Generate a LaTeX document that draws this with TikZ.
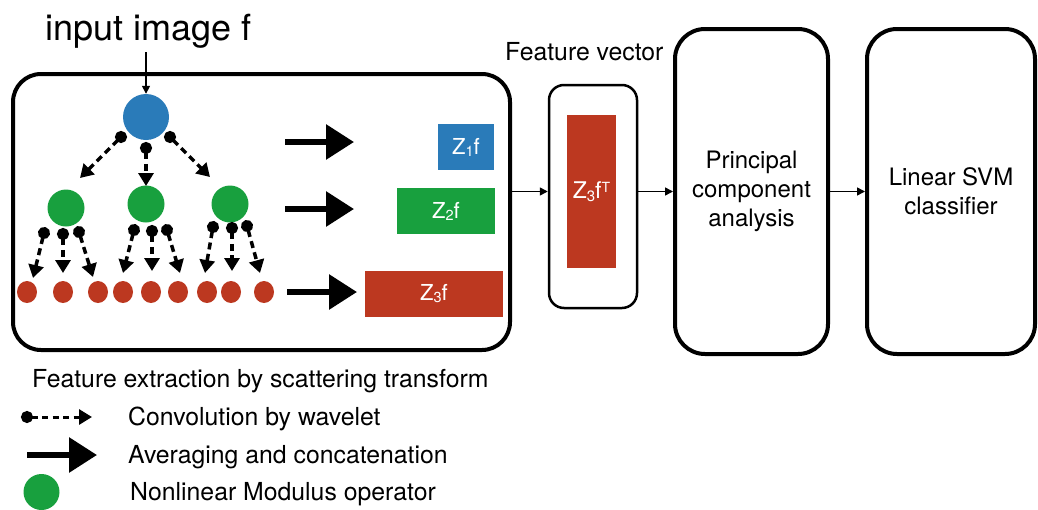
\documentclass[tikz,border=0pt]{standalone}
\usepackage{fontspec}
\setmainfont{TeX Gyre Heros}
\usetikzlibrary{arrows.meta,shapes.geometric,calc}
\definecolor{zblue}{RGB}{42,123,185}
\definecolor{zgreen}{RGB}{24,160,62}
\definecolor{zred}{RGB}{188,56,32}
\begin{document}
\begin{tikzpicture}[x=1pt,y=-1pt,
  bigbox/.style={draw, line width=4pt, rounded corners=28pt, inner sep=0pt},
  fvbox/.style={draw, line width=2.5pt, rounded corners=15pt, inner sep=0pt},
  txt/.style={font=\fontsize{24.8}{29}\selectfont, inner sep=0pt},
  boxtxt/.style={font=\fontsize{24}{29}\selectfont, align=center},
  zlab/.style={text=white, inner sep=0pt, font=\fontsize{22}{24}\selectfont},
  bluenode/.style={circle, fill=zblue, minimum size=46pt, inner sep=0pt},
  greennode/.style={circle, fill=zgreen, minimum size=37pt, inner sep=0pt},
  rednode/.style={ellipse, fill=zred, minimum width=20pt, minimum height=22pt, inner sep=0pt},
  conv/.style={line width=3.5pt, dash pattern=on 7pt off 4.5pt,
    {Circle[length=12pt]}-{Triangle[length=13pt,width=15pt]}, shorten <=-6pt},
  avg/.style={line width=6pt, -{Triangle[length=28pt,width=34pt]}},
  link/.style={line width=1.5pt, -{Triangle[length=8pt,width=8pt]}}
]
\useasboundingbox (0,0) rectangle (1038,509);

% title
\node[anchor=base west, inner sep=0pt, font=\fontsize{36}{40}\selectfont] (inp) at (45,40) {input image f};

% main boxes
\node[bigbox, minimum width=497pt, minimum height=276pt] (scat) at (261.5,212) {};
\node[fvbox, minimum width=88pt, minimum height=223pt] (fv) at (593,196.5) {};
\node[anchor=base west, txt] (fvlab) at (505,60) {Feature vector};
\node[fill=zred, minimum width=49pt, minimum height=153pt, zlab, font=\fontsize{23}{26}\selectfont] (z3t) at (591.5,191.5)
  {Z\raisebox{-2.5pt}{\fontsize{15}{15}\selectfont 3}f\raisebox{6.5pt}{\fontsize{14}{14}\selectfont T}};
\node[bigbox, rounded corners=30pt, minimum width=153pt, minimum height=325pt, boxtxt] (pca) at (751.5,191.5)
  {Principal\\component\\analysis};
\node[bigbox, rounded corners=30pt, minimum width=168pt, minimum height=325pt, boxtxt] (svm) at (951,191.5)
  {Linear SVM\\classifier};

% tree
\node[bluenode] (b) at (146,117) {};
\node[greennode] (g1) at (66,208) {};
\node[greennode] (g2) at (146,204) {};
\node[greennode] (g3) at (230,204) {};
\node[rednode] (r1) at (27,292) {};
\node[rednode] (r2) at (63,292) {};
\node[rednode] (r3) at (98,292) {};
\node[rednode] (r4) at (123,292) {};
\node[rednode] (r5) at (151,292) {};
\node[rednode] (r6) at (178,292) {};
\node[rednode] (r7) at (207,292) {};
\node[rednode] (r8) at (231,292) {};
\node[rednode] (r9) at (264,292) {};

\draw[link] (b.north |- inp.south) ++(0,4) -- (b.north);

\draw[conv] ($(b)+(-25,20)$) -- ($(g1)+(14,-30)$);
\draw[conv] ($(b)+(0,31)$) -- ($(g2)+(0,-18)$);
\draw[conv] ($(b)+(24,20)$) -- ($(g3)+(-20,-27)$);

\draw[conv] ($(g1)+(-22,25)$) -- ($(r1)+(6,-14)$);
\draw[conv] ($(g1)+(-3,26)$) -- ($(r2)+(0,-19)$);
\draw[conv] ($(g1)+(13,24)$) -- ($(r3)+(-5,-15)$);
\draw[conv] ($(g2)+(-12,26)$) -- ($(r4)+(0,-19)$);
\draw[conv] ($(g2)+(6,27)$) -- ($(r5)+(1,-21)$);
\draw[conv] ($(g2)+(21,26)$) -- ($(r6)+(2,-19)$);
\draw[conv] ($(g3)+(-17,23)$) -- ($(r7)+(-2,-19)$);
\draw[conv] ($(g3)+(2,24)$) -- ($(r8)+(1,-21)$);
\draw[conv] ($(g3)+(17,22)$) -- ($(r9)+(-4,-19)$);

% Z outputs
\node[fill=zblue, minimum width=56pt, minimum height=46pt, zlab] (z1) at (466,147)
  {Z\raisebox{-2pt}{\fontsize{14.5}{14}\selectfont 1}f};
\node[fill=zgreen, minimum width=98pt, minimum height=46pt, zlab] (z2) at (446,211)
  {Z\raisebox{-2pt}{\fontsize{14.5}{14}\selectfont 2}f};
\node[fill=zred, minimum width=138pt, minimum height=46pt, zlab] (z3) at (434,294)
  {Z\raisebox{-2pt}{\fontsize{14.5}{14}\selectfont 3}f};

\coordinate (a1s) at (285,142); \coordinate (a1e) at (354,142);
\coordinate (a2s) at (285,209); \coordinate (a2e) at (354,209);
\coordinate (a3s) at (287,292); \coordinate (a3e) at (357,292);
\draw[avg] (a1s) -- (a1e);
\draw[avg] (a2s) -- (a2e);
\draw[avg] (a3s) -- (a3e);

% pipeline links
\draw[link] (scat.east |- pca.west) -- (fv.west |- pca.west);
\draw[link] (fv.east |- pca.west) -- (pca.west);
\draw[link] (pca.east) -- (svm.west);

% legend
\node[anchor=base west, txt] (cap) at (32,387) {Feature extraction by scattering transform};
\coordinate (lc1) at (27,417); \coordinate (lc2) at (92,417);
\draw[conv, line width=3pt, dash pattern=on 6pt off 4.5pt] (lc1) -- (lc2);
\node[anchor=base west, txt] (lconv) at (128,425) {Convolution by wavelet};
\coordinate (la1) at (27,455); \coordinate (la2) at (97,455);
\draw[avg] (la1) -- (la2);
\node[anchor=base west, txt] (lavg) at (128,463) {Averaging and concatenation};
\node[greennode, minimum size=36pt] (lg) at (41.5,492) {};
\node[anchor=base west, txt] (lmod) at (130,500) {Nonlinear Modulus operator};
\end{tikzpicture}
\end{document}
